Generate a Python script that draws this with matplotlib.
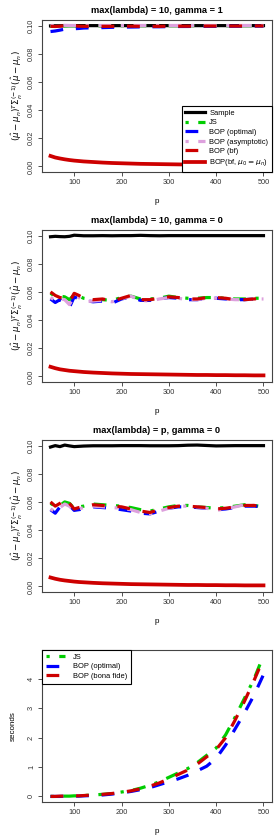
import matplotlib
matplotlib.use("Agg")
import matplotlib.pyplot as plt

plt.rcParams["font.family"] = ["Liberation Sans", "DejaVu Sans"]

p = [50, 60, 70, 80, 90, 100, 110, 120, 140, 160, 180, 200, 220, 240, 260,
     280, 300, 320, 340, 360, 380, 400, 420, 440, 460, 480, 500]

# panel 1: max(lambda) = 10, gamma = 1
sample1 = [0.0998, 0.0999, 0.0999, 0.1, 0.1, 0.1, 0.1, 0.1, 0.1, 0.1, 0.1, 0.1, 0.1, 0.1,
           0.1, 0.1, 0.1, 0.1, 0.1, 0.1, 0.1, 0.1, 0.1, 0.1, 0.1, 0.1, 0.1]
js1 = [0.0995, 0.0996, 0.0997, 0.0998, 0.0999, 0.0999, 0.0999, 0.0999, 0.0999, 0.0999,
       0.0999, 0.1, 0.1, 0.1, 0.1, 0.1, 0.1, 0.1, 0.1, 0.1, 0.1, 0.1, 0.1, 0.1, 0.1, 0.1, 0.1]
opt1 = [0.0958, 0.0962, 0.0968, 0.0975, 0.0978, 0.0978, 0.0980, 0.0983, 0.0985, 0.0986,
        0.0988, 0.0990, 0.0990, 0.0991, 0.0992, 0.0992, 0.0993, 0.0994, 0.0994, 0.0995,
        0.0995, 0.0995, 0.0996, 0.0996, 0.0996, 0.0997, 0.0997]
asy1 = [0.1001, 0.1001, 0.1001, 0.1002, 0.1001, 0.1001, 0.1001, 0.1001, 0.1001, 0.1001,
        0.1001, 0.1001, 0.1001, 0.1001, 0.1001, 0.1001, 0.1001, 0.1001, 0.1001, 0.1001,
        0.1001, 0.1001, 0.1001, 0.1001, 0.1001, 0.1001, 0.1001]
bf1 = [0.0995, 0.0994, 0.0996, 0.0999, 0.1003, 0.0999, 0.0996, 0.0995, 0.0995, 0.0995,
       0.0995, 0.0996, 0.0996, 0.0995, 0.0995, 0.0995, 0.0996, 0.0996, 0.0996, 0.0996,
       0.0997, 0.0997, 0.0997, 0.0997, 0.0997, 0.0998, 0.0998]
mu1 = [0.0074, 0.0063, 0.0056, 0.0050, 0.0045, 0.0041, 0.0038, 0.0035, 0.0031, 0.0027,
       0.0024, 0.0022, 0.0020, 0.0018, 0.0017, 0.0016, 0.0015, 0.0014, 0.0013, 0.0012,
       0.0012, 0.0011, 0.0011, 0.0010, 0.0010, 0.0009, 0.0009]

# panel 2: max(lambda) = 10, gamma = 0
sample2 = [0.0992, 0.0995, 0.0993, 0.0992, 0.0995, 0.1003, 0.1001, 0.0999, 0.0999, 0.1,
           0.0999, 0.1, 0.1, 0.1002, 0.1, 0.0999, 0.1, 0.1, 0.1, 0.1, 0.1, 0.1, 0.1, 0.1,
           0.1, 0.1, 0.1]
js2 = [0.0590, 0.0570, 0.0570, 0.0565, 0.0545, 0.0580, 0.0570, 0.0555, 0.0545, 0.0545,
       0.0540, 0.0560, 0.0570, 0.0550, 0.0550, 0.0555, 0.0570, 0.0560, 0.0555, 0.0555,
       0.0560, 0.0560, 0.0555, 0.0550, 0.0550, 0.0555, 0.0555]
opt2 = [0.0550, 0.0525, 0.0545, 0.0525, 0.0490, 0.0565, 0.0550, 0.0540, 0.0530, 0.0535,
        0.0520, 0.0550, 0.0565, 0.0540, 0.0540, 0.0550, 0.0560, 0.0555, 0.0545, 0.0545,
        0.0555, 0.0555, 0.0550, 0.0545, 0.0545, 0.0550, 0.0550]
asy2 = [0.0560, 0.0540, 0.0550, 0.0545, 0.0510, 0.0570, 0.0560, 0.0530, 0.0535, 0.0540,
        0.0530, 0.0550, 0.0570, 0.0540, 0.0535, 0.0550, 0.0560, 0.0555, 0.0545, 0.0545,
        0.0555, 0.0555, 0.0550, 0.0545, 0.0545, 0.0550, 0.0550]
bf2 = [0.0600, 0.0575, 0.0560, 0.0555, 0.0530, 0.0590, 0.0575, 0.0555, 0.0545, 0.0550,
       0.0535, 0.0555, 0.0575, 0.0545, 0.0545, 0.0555, 0.0565, 0.0560, 0.0550, 0.0550,
       0.0560, 0.0560, 0.0555, 0.0545, 0.0545, 0.0550, 0.0555]
mu2 = [0.0068, 0.0058, 0.0050, 0.0045, 0.0040, 0.0037, 0.0034, 0.0031, 0.0027, 0.0024,
       0.0021, 0.0019, 0.0017, 0.0016, 0.0015, 0.0014, 0.0013, 0.0012, 0.0011, 0.0010,
       0.0010, 0.0009, 0.0009, 0.0008, 0.0008, 0.0007, 0.0007]

# panel 3: max(lambda) = p, gamma = 0
sample3 = [0.0990, 0.1000, 0.0993, 0.1004, 0.0998, 0.0993, 0.0995, 0.0997, 0.0999, 0.0999,
           0.0999, 0.1, 0.1, 0.1, 0.0999, 0.0999, 0.0999, 0.1, 0.1003, 0.1004, 0.1001,
           0.0998, 0.0999, 0.1, 0.1, 0.1, 0.1]
js3 = [0.0590, 0.0570, 0.0575, 0.0600, 0.0590, 0.0555, 0.0565, 0.0570, 0.0585, 0.0580,
       0.0575, 0.0570, 0.0560, 0.0545, 0.0535, 0.0550, 0.0565, 0.0575, 0.0575, 0.0565,
       0.0560, 0.0555, 0.0560, 0.0570, 0.0580, 0.0575, 0.0565]
opt3 = [0.0545, 0.0520, 0.0565, 0.0590, 0.0575, 0.0540, 0.0545, 0.0550, 0.0565, 0.0560,
        0.0555, 0.0545, 0.0535, 0.0520, 0.0515, 0.0535, 0.0555, 0.0565, 0.0565, 0.0560,
        0.0555, 0.0545, 0.0550, 0.0560, 0.0570, 0.0570, 0.0565]
asy3 = [0.0550, 0.0530, 0.0560, 0.0585, 0.0570, 0.0540, 0.0550, 0.0560, 0.0570, 0.0565,
        0.0560, 0.0555, 0.0545, 0.0525, 0.0515, 0.0535, 0.0555, 0.0570, 0.0570, 0.0565,
        0.0555, 0.0540, 0.0550, 0.0565, 0.0580, 0.0575, 0.0565]
bf3 = [0.0600, 0.0570, 0.0590, 0.0625, 0.0590, 0.0550, 0.0560, 0.0565, 0.0580, 0.0575,
       0.0570, 0.0565, 0.0550, 0.0535, 0.0525, 0.0545, 0.0560, 0.0570, 0.0570, 0.0565,
       0.0560, 0.0550, 0.0555, 0.0565, 0.0575, 0.0575, 0.0565]
mu3 = [0.0063, 0.0054, 0.0047, 0.0042, 0.0038, 0.0034, 0.0031, 0.0029, 0.0025, 0.0022,
       0.0020, 0.0018, 0.0016, 0.0015, 0.0014, 0.0013, 0.0012, 0.0011, 0.0010, 0.0010,
       0.0009, 0.0009, 0.0008, 0.0008, 0.0007, 0.0007, 0.0007]

# panel 4: run time in seconds
js4 = [0.0, 0.0, 0.01, 0.01, 0.01, 0.02, 0.02, 0.03, 0.05, 0.07, 0.1, 0.15, 0.2, 0.28,
       0.38, 0.5, 0.65, 0.8, 0.95, 1.15, 1.4, 1.65, 2.1, 2.7, 3.35, 4.0, 4.8]
opt4 = [0.0, 0.0, 0.0, 0.01, 0.01, 0.01, 0.01, 0.02, 0.03, 0.05, 0.08, 0.12, 0.17, 0.23,
        0.3, 0.4, 0.5, 0.6, 0.72, 0.87, 1.03, 1.3, 1.75, 2.3, 2.85, 3.45, 4.15]
bf4 = [0.0, 0.0, 0.01, 0.01, 0.01, 0.02, 0.02, 0.03, 0.05, 0.07, 0.1, 0.14, 0.19, 0.26,
       0.35, 0.46, 0.6, 0.75, 0.9, 1.1, 1.35, 1.6, 2.0, 2.6, 3.25, 3.95, 4.7]

titles = ["max(lambda) = 10, gamma = 1", "max(lambda) = 10, gamma = 0",
          "max(lambda) = p, gamma = 0"]
labels = ["Sample", "JS", "BOP (optimal)", "BOP (asymptotic)", "BOP (bf)",
          r"BOP(bf, $\mu_0 = \mu_n$)"]
ylab = r"$(\hat{\mu}-\mu_n)^T\Sigma_n^{(-1)}(\hat{\mu}-\mu_n)$"

GREEN, BLUE, RED, PLUM = "#00CD00", "#0000FF", "#CD0000", "#DDA0DD"
LW = 2.3
DASH = (4, 4)
DOTDASH = (1, 3, 4, 3)

W, H = 280, 840


def make_axes(k):
    top = 210 * k + 20
    bottom = 210 * k + 172
    ax = fig.add_axes([42 / W, 1 - bottom / H, 230 / W, (bottom - top) / H])
    ax.set_xlim(32, 518)
    ax.set_xticks([100, 200, 300, 400, 500])
    ax.tick_params(labelsize=5.3, length=3, width=0.6, pad=2, colors="#333333")
    for s in ax.spines.values():
        s.set_color("#444444")
        s.set_linewidth(0.8)
    ax.set_xlabel("p", fontsize=5.8, labelpad=9)
    return ax


fig = plt.figure(figsize=(W / 100, H / 100), dpi=100)

panels = [(sample1, js1, opt1, asy1, bf1, mu1),
          (sample2, js2, opt2, asy2, bf2, mu2),
          (sample3, js3, opt3, asy3, bf3, mu3)]

for k, (s, js, opt, asy, bf, mu) in enumerate(panels):
    ax = make_axes(k)
    ax.plot(p, s, color="black", lw=LW)
    ax.plot(p, js, color=GREEN, lw=LW, dashes=DOTDASH)
    ax.plot(p, opt, color=BLUE, lw=LW, dashes=DASH)
    ax.plot(p, asy, color=PLUM, lw=LW, dashes=DOTDASH)
    ax.plot(p, bf, color=RED, lw=LW, dashes=DASH)
    ax.plot(p, mu, color=RED, lw=LW + 0.4)
    ax.set_ylim(-0.004, 0.104)
    ax.set_yticks([0.0, 0.02, 0.04, 0.06, 0.08, 0.10])
    ax.set_yticklabels(["0.00", "0.02", "0.04", "0.06", "0.08", "0.10"], rotation=90,
                       va="center")
    ax.set_title(titles[k], fontsize=6.7, fontweight="bold", pad=5)
    ax.set_ylabel(ylab, fontsize=6.3, labelpad=2)
    if k == 0:
        leg = ax.legend(ax.get_lines(), labels, loc="lower right", fontsize=5.4,
                        frameon=True, fancybox=False, edgecolor="black",
                        framealpha=1, borderaxespad=0, handlelength=2.6,
                        handletextpad=0.6, labelspacing=0.3, borderpad=0.5)
        leg.get_frame().set_linewidth(0.8)

ax = make_axes(3)
ax.plot(p, js4, color=GREEN, lw=LW, dashes=DOTDASH, label="JS")
ax.plot(p, opt4, color=BLUE, lw=LW, dashes=DASH, label="BOP (optimal)")
ax.plot(p, bf4, color=RED, lw=LW, dashes=DASH, label="BOP (bona fide)")
ax.set_ylim(-0.19, 4.99)
ax.set_yticks([0, 1, 2, 3, 4])
ax.set_yticklabels(["0", "1", "2", "3", "4"], rotation=90, va="center")
ax.set_ylabel("seconds", fontsize=5.8, labelpad=8)
leg = ax.legend(loc="upper left", fontsize=5.4, frameon=True, fancybox=False,
                edgecolor="black", framealpha=1, borderaxespad=0, handlelength=2.6,
                handletextpad=1.0, labelspacing=0.3, borderpad=0.5)
leg.get_frame().set_linewidth(0.8)

fig.savefig("out.png", dpi=100)
